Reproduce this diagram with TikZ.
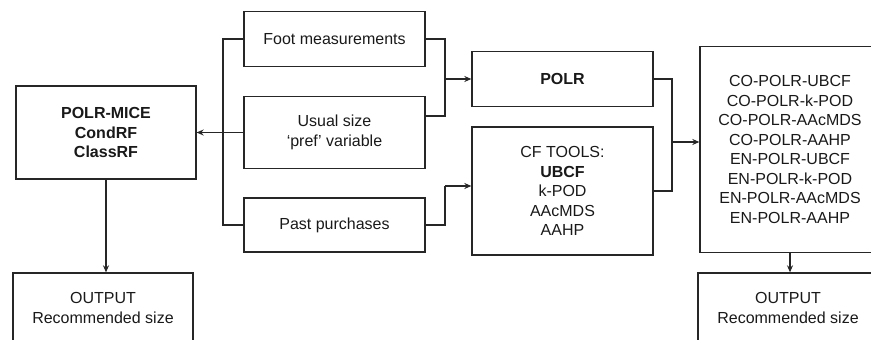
\documentclass[tikz,border=0pt]{standalone}
\usepackage{fontspec}
\setmainfont{Liberation Sans}
\usetikzlibrary{arrows.meta}

\begin{document}
\begin{tikzpicture}[x=1pt,y=-1pt,
	box/.style={draw=black!85,line width=1.3pt,align=center,inner sep=0pt,
		font=\fontsize{16}{19.5}\selectfont,text=black!90},
	line/.style={draw=black!85,line width=1.3pt},
	arr/.style={line,-{Stealth[length=7pt,width=6pt]}}]
	\useasboundingbox (0,0) rectangle (871,340);
	\clip (0,0) rectangle (871,340);
\node[box,minimum width=180,minimum height=93] (mice) at (106,132.5) {\textbf{POLR-MICE}\\\textbf{CondRF}\\\textbf{ClassRF}};
\node[box,minimum width=180,minimum height=70] (outL) at (103,308) {OUTPUT\\Recommended size};
\node[box,minimum width=181,minimum height=55] (foot) at (334.5,39) {Foot measurements};
\node[box,minimum width=181,minimum height=72] (usual) at (334.5,132.5) {Usual size\\`pref' variable};
\node[box,minimum width=181,minimum height=54] (past) at (334.5,225) {Past purchases};
\node[box,minimum width=181,minimum height=55] (polr) at (562.5,79) {\textbf{POLR}};
\node[box,minimum width=181,minimum height=128] (cf) at (562.5,191) {CF TOOLS:\\\textbf{UBCF}\\k-POD\\AAcMDS\\AAHP};
\node[box,minimum width=180,minimum height=206] (combos) at (790,149.5) {CO-POLR-UBCF\\CO-POLR-k-POD\\CO-POLR-AAcMDS\\CO-POLR-AAHP\\EN-POLR-UBCF\\EN-POLR-k-POD\\EN-POLR-AAcMDS\\EN-POLR-AAHP};
\node[box,minimum width=180,minimum height=70] (outR) at (788,308) {OUTPUT\\Recommended size};
\coordinate (bl) at (223,132.5);
\coordinate (j1) at (445,79);
\coordinate (j2) at (445,186);
\coordinate (j3) at (672,142);
\draw[line] (foot.west) -| (bl) |- (past.west);
\draw[arr] (usual.west) -- (mice.east);
\draw[arr] (mice.south) -- (mice.south |- outL.north);
\draw[line] (foot.east) -| (j1) |- ([yshift=16.5pt]usual.east);
\draw[arr] (j1) -- (polr.west);
\draw[line] (past.east) -| (j2);
\draw[arr] (j2) -- (j2 -| cf.west);
\draw[line] (polr.east) -| (j3) |- (cf.east);
\draw[arr] (j3) -- (j3 -| combos.west);
\draw[arr] (combos.south) -- (combos.south |- outR.north);

\end{tikzpicture}
\end{document}
